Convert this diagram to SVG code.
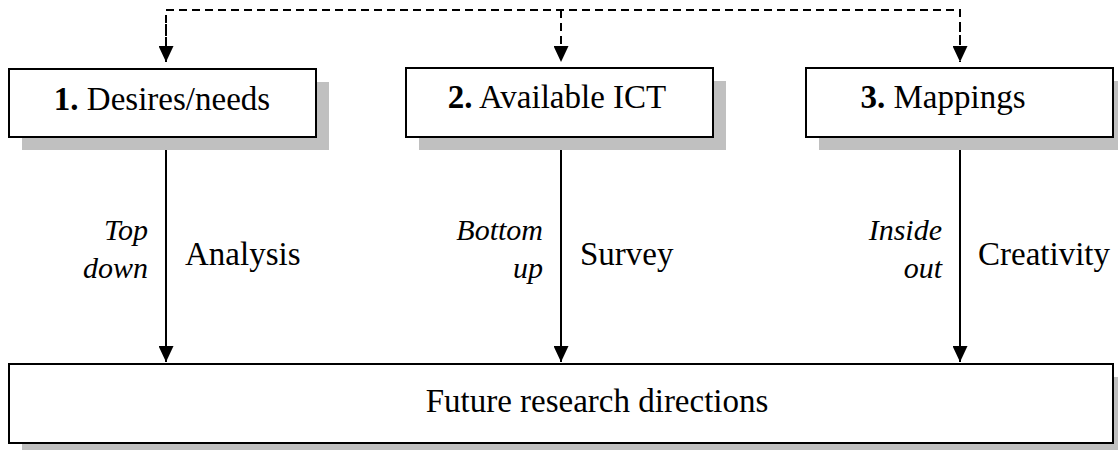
<svg xmlns="http://www.w3.org/2000/svg" width="1118" height="450" viewBox="0 0 1118 450">
  <style>
    .shadow { fill: #c0c0c0; stroke: none; }
    .box { fill: #ffffff; stroke: #000000; stroke-width: 2; }
    text { font-family: 'Liberation Serif', 'DejaVu Serif', 'Noto Serif', 'Times New Roman', Times, serif; fill: #000000; }
    .lbl { font-size: 33px; }
    .ital { font-size: 30px; font-style: italic; text-anchor: end; }
    .solid { stroke: #000000; stroke-width: 2; fill: none; }
    .dash { stroke: #000000; stroke-width: 2; fill: none; stroke-dasharray: 8 5; }
  </style>
  <defs>
    <marker id="arrow" viewBox="0 0 16 15" refX="16" refY="7.5" markerWidth="16" markerHeight="15" markerUnits="userSpaceOnUse" orient="auto">
      <path d="M0,0 L16,7.5 L0,15 Z" fill="#000000"/>
    </marker>
  </defs>

  <!-- connectors -->
  <g id="connectors">
    <path class="dash" d="M166,62 V10 H960 V62" />
    <path class="dash" d="M166,24 V62" marker-end="url(#arrow)" />
    <path class="dash" d="M561,10 V62" marker-end="url(#arrow)" />
    <path class="dash" d="M960,24 V62" marker-end="url(#arrow)" />
    <line class="solid" x1="166" y1="137" x2="166" y2="362" marker-end="url(#arrow)" />
    <line class="solid" x1="561" y1="137" x2="561" y2="362" marker-end="url(#arrow)" />
    <line class="solid" x1="960" y1="137" x2="960" y2="362" marker-end="url(#arrow)" />
  </g>

  <!-- node 1 -->
  <g id="node-desires">
    <rect class="shadow" x="22" y="82" width="307" height="68" />
    <rect class="box" x="9" y="69" width="307" height="68" />
    <text class="lbl" font-family="Liberation Serif, serif" x="162" y="110" text-anchor="middle"><tspan font-weight="bold">1.</tspan> Desires/needs</text>
  </g>

  <!-- node 2 -->
  <g id="node-ict">
    <rect class="shadow" x="419" y="81" width="307" height="69" />
    <rect class="box" x="406" y="68" width="307" height="69" />
    <text class="lbl" x="557" y="108" text-anchor="middle"><tspan font-weight="bold">2.</tspan> Available ICT</text>
  </g>

  <!-- node 3 -->
  <g id="node-mappings">
    <rect class="shadow" x="819" y="81" width="307" height="69" />
    <rect class="box" x="806" y="68" width="307" height="69" />
    <text class="lbl" x="943" y="108" text-anchor="middle"><tspan font-weight="bold">3.</tspan> Mappings</text>
  </g>

  <!-- bottom node -->
  <g id="node-future">
    <rect class="shadow" x="22" y="377" width="1110" height="80" />
    <rect class="box" x="9" y="364" width="1104" height="79" />
    <text class="lbl" x="597" y="412" text-anchor="middle">Future research directions</text>
  </g>

  <!-- edge labels -->
  <g id="labels">
    <text class="ital" x="148" y="240">Top</text>
    <text class="ital" x="148" y="278">down</text>
    <text class="lbl" x="185" y="265">Analysis</text>

    <text class="ital" x="543" y="240">Bottom</text>
    <text class="ital" x="543" y="278">up</text>
    <text class="lbl" x="580" y="265">Survey</text>

    <text class="ital" x="942" y="240">Inside</text>
    <text class="ital" x="942" y="278">out</text>
    <text class="lbl" x="978" y="265">Creativity</text>
  </g>
</svg>
